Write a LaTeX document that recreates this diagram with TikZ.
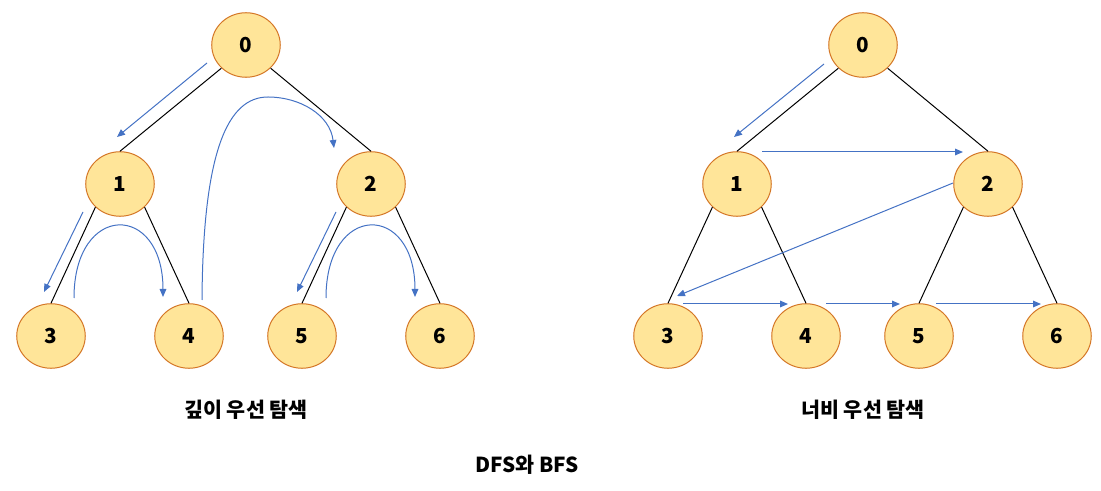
\documentclass[tikz,border=0pt]{standalone}
\usepackage{fontspec}
\setmainfont{Noto Sans CJK KR}
\usetikzlibrary{shapes.geometric,arrows.meta}

\definecolor{vfill}{RGB}{255,229,153}
\definecolor{vline}{RGB}{212,118,38}
\definecolor{walkblue}{RGB}{68,114,196}

\tikzset{every picture/.style={line width=0.75pt}}
\tikzset{
  vert/.style={ellipse,draw=vline,fill=vfill,minimum width=51.4pt,minimum height=48.4pt,inner sep=0pt,font=\fontsize{15.5}{17}\selectfont\bfseries},
  link/.style={draw=black},
  walk/.style={draw=walkblue,-{Triangle[length=6pt,width=5pt]}},
  title/.style={inner sep=0.75pt,font=\fontsize{15.5}{17}\selectfont\bfseries}
}

\begin{document}
\begin{tikzpicture}[x=0.75pt,y=0.75pt,yscale=-1,xscale=1]
\useasboundingbox (0,0) rectangle (1101,491); %set diagram size

%Left tree: DFS
\node[vert] (l0) at (246,45) {0};
\node[vert] (l1) at (120,184) {1};
\node[vert] (l2) at (371,184) {2};
\node[vert] (l3) at (51,336) {3};
\node[vert] (l4) at (189,336) {4};
\node[vert] (l5) at (302,336) {5};
\node[vert] (l6) at (440,336) {6};
\draw[link] (l0.south west) -- (l1.north);
\draw[link] (l0.south east) -- (l2.north);
\draw[link] (l1.south west) -- (l3.north);
\draw[link] (l1.south east) -- (l4.north);
\draw[link] (l2.south west) -- (l5.north);
\draw[link] (l2.south east) -- (l6.north);

%Right tree: BFS
\node[vert] (r0) at (863,45) {0};
\node[vert] (r1) at (737,184) {1};
\node[vert] (r2) at (988,184) {2};
\node[vert] (r3) at (668,336) {3};
\node[vert] (r4) at (806,336) {4};
\node[vert] (r5) at (919,336) {5};
\node[vert] (r6) at (1057,336) {6};
\draw[link] (r0.south west) -- (r1.north);
\draw[link] (r0.south east) -- (r2.north);
\draw[link] (r1.south west) -- (r3.north);
\draw[link] (r1.south east) -- (r4.north);
\draw[link] (r2.south west) -- (r5.north);
\draw[link] (r2.south east) -- (r6.north);

%DFS order
\coordinate (dA) at (207,63);  \coordinate (dB) at (117,137);
\coordinate (dC) at (83,212);  \coordinate (dD) at (44,292);
\coordinate (dE) at (74,298);  \coordinate (dF) at (163,297);
\coordinate (dG) at (202,300); \coordinate (dH) at (334,148);
\coordinate (dI) at (336,212); \coordinate (dJ) at (297,292);
\coordinate (dK) at (326,298); \coordinate (dL) at (415,297);
\draw[walk] (dA) -- (dB);
\draw[walk] (dC) -- (dD);
\draw[walk] (dE) .. controls (74,202) and (163,202) .. (dF);
\draw[walk] (dG) .. controls (203,150) and (228,97) .. (268,97) .. controls (300,97) and (330,115) .. (dH);
\draw[walk] (dI) -- (dJ);
\draw[walk] (dK) .. controls (326,202) and (415,202) .. (dL);

%BFS order
\coordinate (bA) at (824,64);  \coordinate (bB) at (734,137);
\coordinate (bC) at (762,152); \coordinate (bD) at (963,152);
\coordinate (bE) at (953,183); \coordinate (bF) at (677,296);
\coordinate (bG) at (683,304); \coordinate (bH) at (788,304);
\coordinate (bI) at (826,304); \coordinate (bJ) at (900,304);
\coordinate (bK) at (936,304); \coordinate (bL) at (1041,304);
\draw[walk] (bA) -- (bB);
\draw[walk] (bC) -- (bD);
\draw[walk] (bE) -- (bF);
\draw[walk] (bG) -- (bH);
\draw[walk] (bI) -- (bJ);
\draw[walk] (bK) -- (bL);

% Text Node
\node[title] (dfs) at (246,410) {깊이 우선 탐색};
% Text Node
\node[title] (bfs) at (863,410) {너비 우선 탐색};
% Text Node
\node[title] (cap) at (527,465) {DFS와 BFS};

\end{tikzpicture}
\end{document}
